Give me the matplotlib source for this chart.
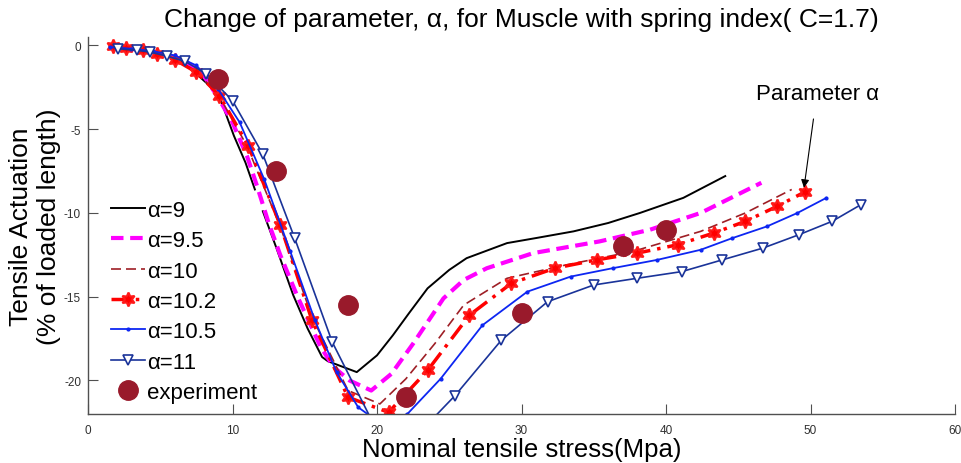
import numpy as np
import matplotlib
matplotlib.use("Agg")
import matplotlib.pyplot as plt

plt.rcParams['font.family'] = ['Liberation Sans', 'DejaVu Sans']
plt.rcParams['axes.unicode_minus'] = False

# ---- data ----
x_a9 = [1.5, 3, 4.5, 6, 7, 7.5, 8.4, 9.2, 10.1, 10.9, 11.55, np.nan, 12.1, 13, 14.2, 15.2, 16.2, 16.6, 18.6,
        20.0, 21.1, 22.2, 23.5, 25.0, 26.2, 29.0, 31.0, 33.6, 36.0, 38.2, 41.2, 44.1]
y_a9 = [-0.05, -0.2, -0.4, -0.75, -1.3, -1.7, -2.4, -3.3, -5.4, -7.0, -8.6, np.nan, -9.9, -12.0, -14.9, -16.9, -18.6, -18.85, -19.5,
        -18.5, -17.3, -16.0, -14.5, -13.4, -12.7, -11.8, -11.5, -11.1, -10.6, -10.0, -9.1, -7.8]

x_a95 = [1.5, 3, 4.5, 6, 7, 8, 9, 10, 11, 11.7, 12.5, 13.3, 14.5, 16.1, 17.0, 18.1, 19.6,
         21.0, 22.5, 24.6, 26.0, 27.6, 30.8, 35.4, 38.9, 42.4, 46.6]
y_a95 = [-0.1, -0.2, -0.4, -0.7, -1.1, -1.8, -3.1, -4.6, -6.6, -8.4, -10.6, -12.5, -15.0, -18.0, -19.2, -20.0, -20.6,
         -19.6, -17.8, -15.1, -14.0, -13.3, -12.4, -11.7, -11.0, -10.0, -8.2]

x_a10 = [1.5, 3, 4.5, 6, 7.5, 9, 11, 13.3, 15.5, 18.0, 20.2, 22.0, 24.0, 26.0, 29.0, 33.1, 37.7, 42.4, 45.5, 48.7]
y_a10 = [-0.1, -0.2, -0.35, -0.8, -1.6, -2.9, -6.0, -10.8, -16.2, -20.6, -21.4, -19.9, -17.8, -15.5, -13.9, -13.1, -12.3, -11.1, -10.0, -8.6]

x_a102 = [1.7, 2.6, 3.8, 4.8, 6.0, 7.5, 9.1, 11.1, 13.3, 15.5, 18.0, 20.8, 23.5, 26.4, 29.3, 32.3,
          35.2, 38.0, 40.8, 43.3, 45.5, 47.7, 49.6]
y_a102 = [-0.06, -0.15, -0.3, -0.5, -0.85, -1.6, -3.0, -6.0, -10.7, -16.4, -21.0, -21.9, -19.4, -16.1, -14.2, -13.3,
          -12.8, -12.4, -11.9, -11.2, -10.5, -9.6, -8.75]

x_a105 = [1.5, 3, 4.5, 6, 7.5, 9, 10.5, 12.2, 14.0, 15.7, 17.2, 18.7, 20.3, 22.1, 24.4, 27.3, 30.4, 33.4,
          36.3, 39.4, 42.4, 44.6, 47.0, 49.1, 51.1]
y_a105 = [-0.1, -0.2, -0.35, -0.6, -1.2, -2.6, -4.6, -8.0, -12.3, -16.4, -19.5, -21.6, -22.6, -22.0, -19.9, -16.7, -14.7, -13.8,
          -13.3, -12.8, -12.2, -11.5, -10.8, -10.0, -9.1]

x_a11 = [2.1, 3.4, 4.3, 5.5, 6.7, 8.2, 10.0, 12.1, 14.3, 16.9, 20.0, 22.5, 25.4, 28.6, 31.8, 35.0, 38.0, 41.1,
         43.9, 46.7, 49.2, 51.5, 53.5]
y_a11 = [-0.2, -0.3, -0.4, -0.65, -0.95, -1.7, -3.3, -6.5, -11.5, -17.7, -23.0, -23.5, -20.9, -17.6, -15.3, -14.3, -13.9, -13.5,
         -12.8, -12.1, -11.3, -10.5, -9.5]

x_exp = [9, 13, 18, 22, 30, 37, 40]
y_exp = [-2, -7.5, -15.5, -21, -16, -12, -11]

labels = ['α=9', 'α=9.5', 'α=10', 'α=10.2', 'α=10.5', 'α=11', 'experiment']

fig = plt.figure(figsize=(9.61, 4.64), dpi=100)
ax = fig.add_axes([88/961, 1-415/464, 867/961, 377/464])

ax.plot(x_a9, y_a9, color='black', lw=1.4, label=labels[0])
ax.plot(x_a95, y_a95, color=(1, 0, 1), lw=3, ls=(0, (3, 1.6)), label=labels[1])
ax.plot(x_a10, y_a10, color=(0.62, 0.12, 0.15), lw=1.2, ls=(0, (6, 3)), label=labels[2])
ax.plot(x_a102, y_a102, color=(1, 0, 0), lw=2.5, ls=(0, (5, 2, 1, 2)), marker=(6, 1, 0),
        ms=10, mfc=(1, 0, 0), mec=(1, 0.1, 0.1), mew=1.5, label=labels[3])
ax.plot(x_a105, y_a105, color=(0.05, 0.15, 0.95), lw=1.3, marker='.', ms=4, label=labels[4])
ax.plot(x_a11, y_a11, color=(0.1, 0.2, 0.6), lw=1.2, marker='v', ms=7, mfc='white', mew=1.2, label=labels[5])
ax.plot(x_exp, y_exp, ls='none', marker='o', ms=14, color=(0.6, 0.1, 0.17), label=labels[6])

ax.set_xlim(0, 60)
ax.set_ylim(-22, 0.5)
ax.set_xticks([0, 10, 20, 30, 40, 50, 60])
ax.set_yticks([0, -5, -10, -15, -20])
for s in ['top', 'right']:
    ax.spines[s].set_visible(False)
for s in ['left', 'bottom']:
    ax.spines[s].set_color('#505050')
    ax.spines[s].set_linewidth(1.0)
ax.tick_params(direction='in', length=7, labelsize=8.5, colors='#505050', labelcolor='#303030')
ax.tick_params(axis='x', pad=7)
ax.tick_params(axis='y', pad=5)

ax.set_title('Change of parameter, α, for Muscle with spring index( C=1.7)', fontsize=19, pad=8)
ax.set_xlabel('Nominal tensile stress(Mpa)', fontsize=18.5, labelpad=1)
ax.set_ylabel('Tensile Actuation\n(% of loaded length)', fontsize=19, labelpad=2, linespacing=1.2)

ax.annotate('Parameter α', xy=(49.55, -8.5), xytext=(50.45, -2.86), fontsize=16,
            ha='center', va='center',
            arrowprops=dict(arrowstyle='-|>', color='black', lw=0.8, shrinkA=9, shrinkB=0,
                            mutation_scale=12))

leg = ax.legend(loc='upper left', bbox_to_anchor=(0.026, 0.568), frameon=False, fontsize=16,
                handlelength=1.55, handletextpad=0.1, labelspacing=0.42, borderpad=0, borderaxespad=0)

fig.savefig('out.png', dpi=100)
